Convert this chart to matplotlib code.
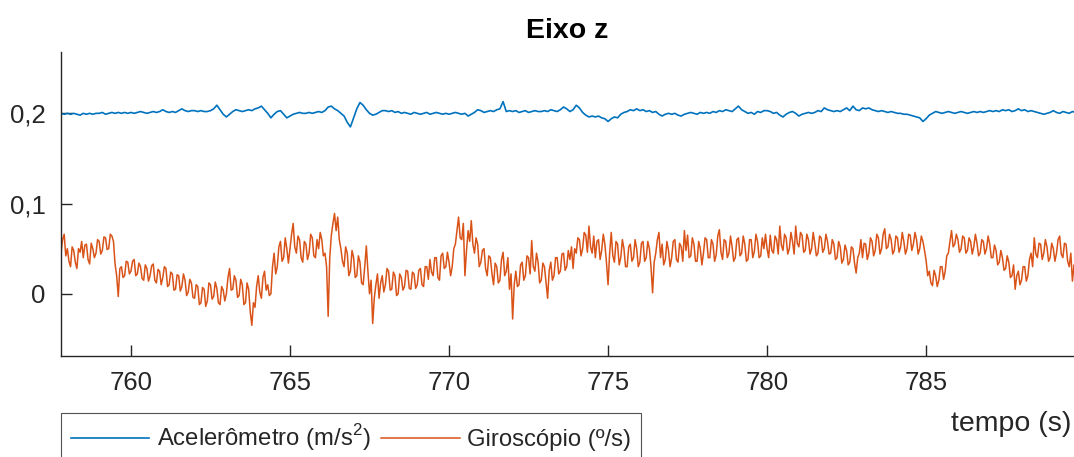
import numpy as np
import matplotlib
matplotlib.use("Agg")
import matplotlib.pyplot as plt

plt.rcParams["font.family"] = ["Liberation Sans", "DejaVu Sans"]
plt.rcParams["mathtext.fontset"] = "custom"
plt.rcParams["mathtext.rm"] = "Liberation Sans"

T0 = 757.8
DT_ACC = 0.1
DT_GYRO = 0.05

# Acelerômetro, eixo z, amostrado a cada 0,1 s a partir de 757,8 s
acc = [
    0.200, 0.199,
    0.200, 0.199, 0.200, 0.199, 0.198, 0.200, 0.199, 0.200, 0.199, 0.200,  # 758
    0.200, 0.201, 0.199, 0.200, 0.201, 0.200, 0.201, 0.200, 0.201, 0.200,  # 759
    0.201, 0.200, 0.201, 0.202, 0.201, 0.200, 0.201, 0.202, 0.201, 0.202,  # 760
    0.204, 0.202, 0.201, 0.202, 0.201, 0.203, 0.205, 0.203, 0.202, 0.203,  # 761
    0.203, 0.202, 0.203, 0.202, 0.202, 0.203, 0.205, 0.209, 0.204, 0.199,  # 762
    0.196, 0.199, 0.202, 0.204, 0.203, 0.202, 0.203, 0.204, 0.203, 0.205,  # 763
    0.206, 0.208, 0.204, 0.200, 0.195, 0.199, 0.202, 0.203, 0.199, 0.195,  # 764
    0.197, 0.199, 0.200, 0.201, 0.200, 0.200, 0.201, 0.200, 0.201, 0.202,  # 765
    0.201, 0.203, 0.207, 0.208, 0.205, 0.203, 0.200, 0.197, 0.190, 0.185,  # 766
    0.195, 0.205, 0.212, 0.209, 0.204, 0.200, 0.198, 0.199, 0.201, 0.203,  # 767
    0.203, 0.202, 0.203, 0.201, 0.202, 0.200, 0.201, 0.200, 0.199, 0.201,  # 768
    0.200, 0.199, 0.200, 0.201, 0.199, 0.200, 0.201, 0.200, 0.199, 0.200,  # 769
    0.199, 0.200, 0.201, 0.200, 0.199, 0.200, 0.197, 0.199, 0.201, 0.204,  # 770
    0.203, 0.201, 0.202, 0.203, 0.202, 0.204, 0.205, 0.213, 0.202, 0.203,  # 771
    0.202, 0.203, 0.201, 0.202, 0.203, 0.201, 0.202, 0.203, 0.202, 0.202,  # 772
    0.203, 0.202, 0.204, 0.203, 0.202, 0.204, 0.207, 0.205, 0.202, 0.204,  # 773
    0.209, 0.206, 0.201, 0.198, 0.196, 0.197, 0.196, 0.197, 0.195, 0.194,  # 774
    0.191, 0.194, 0.196, 0.195, 0.199, 0.201, 0.202, 0.204, 0.203, 0.205,  # 775
    0.203, 0.204, 0.202, 0.203, 0.201, 0.202, 0.199, 0.197, 0.199, 0.200,  # 776
    0.199, 0.200, 0.198, 0.197, 0.199, 0.200, 0.201, 0.200, 0.199, 0.201,  # 777
    0.200, 0.201, 0.200, 0.202, 0.201, 0.203, 0.202, 0.204, 0.203, 0.202,  # 778
    0.205, 0.208, 0.204, 0.202, 0.200, 0.201, 0.199, 0.202, 0.201, 0.203,  # 779
    0.203, 0.202, 0.200, 0.201, 0.198, 0.196, 0.199, 0.201, 0.202, 0.200,  # 780
    0.197, 0.199, 0.200, 0.201, 0.200, 0.201, 0.203, 0.202, 0.206, 0.204,  # 781
    0.203, 0.202, 0.203, 0.202, 0.204, 0.206, 0.203, 0.208, 0.204, 0.203,  # 782
    0.206, 0.205, 0.206, 0.204, 0.203, 0.202, 0.203, 0.202, 0.201, 0.202,  # 783
    0.201, 0.200, 0.200, 0.199, 0.199, 0.198, 0.197, 0.196, 0.195, 0.191,  # 784
    0.194, 0.198, 0.200, 0.202, 0.201, 0.200, 0.201, 0.202, 0.201, 0.200,  # 785
    0.201, 0.202, 0.201, 0.200, 0.201, 0.202, 0.201, 0.202, 0.201, 0.202,  # 786
    0.203, 0.202, 0.203, 0.202, 0.204, 0.203, 0.204, 0.202, 0.203, 0.205,  # 787
    0.203, 0.204, 0.202, 0.203, 0.202, 0.201, 0.200, 0.199, 0.200, 0.201,  # 788
    0.203, 0.201, 0.200, 0.202, 0.201, 0.200, 0.202, 0.201, 0.200,         # 789
]

# Giroscópio, eixo z, amostrado a cada 0,05 s a partir de 757,8 s
gyro = [
    0.045, 0.060, 0.066, 0.042,
    0.050, 0.036, 0.030, 0.052, 0.048, 0.035, 0.028, 0.050, 0.046, 0.058,
    0.040, 0.054, 0.055, 0.038, 0.033, 0.056, 0.050, 0.040, 0.045, 0.060,  # 758
    0.058, 0.044, 0.048, 0.063, 0.062, 0.049, 0.050, 0.066, 0.064, 0.058,
    0.033, 0.020, -0.003, 0.028, 0.030, 0.018, 0.020, 0.036, 0.035, 0.022,  # 759
    0.025, 0.036, 0.038, 0.020, 0.022, 0.034, 0.030, 0.017, 0.015, 0.032,
    0.028, 0.014, 0.020, 0.031, 0.033, 0.015, 0.012, 0.027, 0.025, 0.010,  # 760
    0.018, 0.030, 0.028, 0.008, 0.010, 0.024, 0.022, 0.004, 0.005, 0.021,
    0.020, 0.003, 0.008, 0.022, 0.015, -0.002, 0.002, 0.016, 0.012, -0.004,  # 761
    -0.005, 0.010, 0.008, -0.012, -0.010, 0.007, 0.005, -0.014, -0.008, 0.012,
    0.010, -0.006, -0.003, 0.013, 0.006, -0.010, -0.012, 0.008, 0.004, -0.008,  # 762
    0.000, 0.018, 0.028, 0.004, 0.005, 0.020, 0.015, -0.004, -0.002, 0.016,
    0.010, -0.012, -0.010, 0.012, 0.005, -0.020, -0.035, -0.010, -0.015, 0.008,  # 763
    0.020, 0.002, -0.005, 0.018, 0.025, 0.004, 0.010, -0.002, 0.000, 0.030,
    0.045, 0.022, 0.030, 0.052, 0.058, 0.036, 0.040, 0.062, 0.050, 0.034,  # 764
    0.050, 0.066, 0.078, 0.052, 0.045, 0.064, 0.060, 0.040, 0.035, 0.058,
    0.055, 0.038, 0.045, 0.066, 0.062, 0.042, 0.040, 0.060, 0.050, 0.068,  # 765
    0.060, 0.042, 0.045, 0.030, -0.025, 0.040, 0.065, 0.078, 0.089, 0.070,
    0.085, 0.060, 0.050, 0.036, 0.030, 0.052, 0.045, 0.020, 0.025, 0.048,  # 766
    0.040, 0.018, 0.020, 0.042, 0.035, 0.012, 0.010, 0.030, 0.053, 0.025,
    0.000, 0.015, -0.033, -0.005, 0.010, 0.022, -0.005, 0.012, 0.020, 0.002,  # 767
    0.010, 0.028, 0.025, 0.004, 0.005, 0.024, 0.020, -0.002, 0.000, 0.022,
    0.018, 0.004, 0.008, 0.026, 0.025, 0.006, 0.005, 0.024, 0.022, 0.006,  # 768
    0.010, 0.026, 0.028, 0.010, 0.008, 0.030, 0.030, 0.016, 0.038, 0.024,
    0.020, 0.040, 0.040, 0.018, 0.015, 0.042, 0.045, 0.028, 0.030, 0.046,  # 769
    0.035, 0.020, 0.030, 0.050, 0.055, 0.070, 0.085, 0.062, 0.060, 0.078,
    0.020, 0.048, 0.070, 0.058, 0.081, 0.055, 0.045, 0.062, 0.055, 0.030,  # 770
    0.035, 0.048, 0.050, 0.028, 0.020, 0.042, 0.040, 0.022, 0.010, 0.034,
    0.030, 0.012, 0.015, 0.038, 0.046, 0.020, 0.025, 0.040, 0.005, 0.022,  # 771
    -0.028, 0.010, 0.025, 0.008, 0.010, 0.032, 0.035, 0.015, 0.020, 0.042,
    0.040, 0.022, 0.059, 0.030, 0.025, 0.045, 0.035, 0.012, 0.015, 0.034,  # 772
    0.030, 0.012, -0.005, 0.026, 0.035, 0.015, 0.020, 0.040, 0.040, 0.022,
    0.025, 0.044, 0.045, 0.026, 0.030, 0.048, 0.038, 0.052, 0.028, 0.050,  # 773
    0.045, 0.062, 0.060, 0.042, 0.050, 0.068, 0.065, 0.046, 0.075, 0.052,
    0.045, 0.064, 0.040, 0.058, 0.060, 0.038, 0.048, 0.066, 0.055, 0.035,  # 774
    0.010, 0.045, 0.068, 0.042, 0.035, 0.058, 0.055, 0.032, 0.040, 0.060,
    0.050, 0.030, 0.030, 0.052, 0.055, 0.036, 0.040, 0.060, 0.050, 0.030,  # 775
    0.035, 0.056, 0.058, 0.036, 0.040, 0.058, 0.050, 0.030, 0.001, 0.035,
    0.045, 0.060, 0.068, 0.040, 0.055, 0.032, 0.038, 0.058, 0.048, 0.030,  # 776
    0.040, 0.058, 0.060, 0.038, 0.035, 0.056, 0.052, 0.036, 0.070, 0.048,
    0.065, 0.040, 0.042, 0.062, 0.055, 0.036, 0.036, 0.058, 0.050, 0.032,  # 777
    0.045, 0.062, 0.060, 0.040, 0.040, 0.060, 0.055, 0.036, 0.043, 0.064,
    0.071, 0.046, 0.038, 0.060, 0.058, 0.040, 0.045, 0.064, 0.052, 0.036,  # 778
    0.040, 0.060, 0.062, 0.042, 0.045, 0.064, 0.055, 0.036, 0.038, 0.060,
    0.060, 0.040, 0.047, 0.066, 0.058, 0.040, 0.042, 0.062, 0.050, 0.066,  # 779
    0.050, 0.040, 0.065, 0.048, 0.045, 0.064, 0.060, 0.044, 0.075, 0.054,
    0.048, 0.066, 0.062, 0.044, 0.050, 0.068, 0.058, 0.044, 0.075, 0.056,  # 780
    0.052, 0.068, 0.065, 0.046, 0.048, 0.066, 0.060, 0.044, 0.050, 0.068,
    0.056, 0.042, 0.045, 0.064, 0.062, 0.046, 0.050, 0.066, 0.058, 0.044,  # 781
    0.045, 0.060, 0.055, 0.038, 0.040, 0.058, 0.052, 0.034, 0.038, 0.054,
    0.048, 0.032, 0.035, 0.052, 0.050, 0.034, 0.023, 0.040, 0.045, 0.060,  # 782
    0.040, 0.056, 0.055, 0.038, 0.045, 0.062, 0.058, 0.042, 0.048, 0.066,
    0.062, 0.044, 0.050, 0.066, 0.072, 0.050, 0.052, 0.066, 0.060, 0.044,  # 783
    0.048, 0.064, 0.062, 0.046, 0.052, 0.068, 0.058, 0.044, 0.050, 0.066,
    0.065, 0.048, 0.055, 0.068, 0.060, 0.044, 0.050, 0.064, 0.058, 0.048,  # 784
    0.037, 0.020, 0.025, 0.012, 0.009, 0.026, 0.020, 0.008, 0.015, 0.030,
    0.030, 0.016, 0.025, 0.042, 0.045, 0.058, 0.070, 0.052, 0.055, 0.066,  # 785
    0.060, 0.046, 0.050, 0.064, 0.062, 0.045, 0.048, 0.062, 0.058, 0.044,
    0.052, 0.066, 0.056, 0.042, 0.045, 0.060, 0.058, 0.044, 0.050, 0.064,  # 786
    0.055, 0.040, 0.040, 0.054, 0.048, 0.032, 0.035, 0.048, 0.040, 0.026,
    0.028, 0.042, 0.035, 0.018, 0.020, 0.032, 0.005, 0.020, 0.025, 0.010,  # 787
    0.015, 0.030, 0.030, 0.014, 0.020, 0.038, 0.045, 0.030, 0.062, 0.044,
    0.040, 0.056, 0.055, 0.038, 0.045, 0.060, 0.052, 0.036, 0.040, 0.056,  # 788
    0.050, 0.036, 0.045, 0.060, 0.064, 0.044, 0.040, 0.056, 0.055, 0.036,
    0.030, 0.045, 0.014, 0.032, 0.030, 0.018, 0.025,                       # 789
]

x_ticks = [760, 765, 770, 775, 780, 785]
y_ticks = [0, 0.1, 0.2]
y_tick_labels = ["0", "0,1", "0,2"]

t_acc = T0 + DT_ACC * np.arange(len(acc))
t_gyro = T0 + DT_GYRO * np.arange(len(gyro))

AX_COLOR = (0.15, 0.15, 0.15)

fig = plt.figure(figsize=(10.74, 4.57), dpi=100)
ax = fig.add_axes([61 / 1074, 1 - 356 / 457, 1 - 61 / 1074, (356 - 52) / 457])

ax.plot(t_acc, acc, color="#0072BD", lw=1.2, label="Acelerômetro (m/s$^2$)")
ax.plot(t_gyro, gyro, color="#D95319", lw=1.1, label="Giroscópio (º/s)")

ax.set_xlim(757.8, 789.65)
ax.set_ylim(-0.069, 0.268)
ax.set_xticks(x_ticks)
ax.set_yticks(y_ticks)
ax.set_yticklabels(y_tick_labels)

for side in ("top", "right"):
    ax.spines[side].set_visible(False)
for side in ("left", "bottom"):
    ax.spines[side].set_color(AX_COLOR)
    ax.spines[side].set_linewidth(1.0)
ax.tick_params(direction="in", length=8, width=1.0, colors=AX_COLOR,
               labelsize=18.5, pad=11)

fig.text((61 + 1074) / 2 / 1074, 1 - 38 / 457, "Eixo z", ha="center",
         va="baseline", fontsize=20.5, fontweight="bold")
fig.text(1071 / 1074, 1 - 424 / 457, "tempo (s)", ha="right", va="center",
         fontsize=20.5, color=AX_COLOR)

leg = fig.legend(loc="upper left", bbox_to_anchor=(61 / 1074, 1 - 413 / 457),
                 ncol=2, fontsize=17.2, frameon=True, fancybox=False,
                 borderaxespad=0, borderpad=0.4, handlelength=3.3,
                 handletextpad=0.3, columnspacing=0.45)
leg.get_frame().set_edgecolor(AX_COLOR)
leg.get_frame().set_linewidth(0.8)
for txt in leg.get_texts():
    txt.set_color(AX_COLOR)

fig.savefig("out.png", dpi=100)
